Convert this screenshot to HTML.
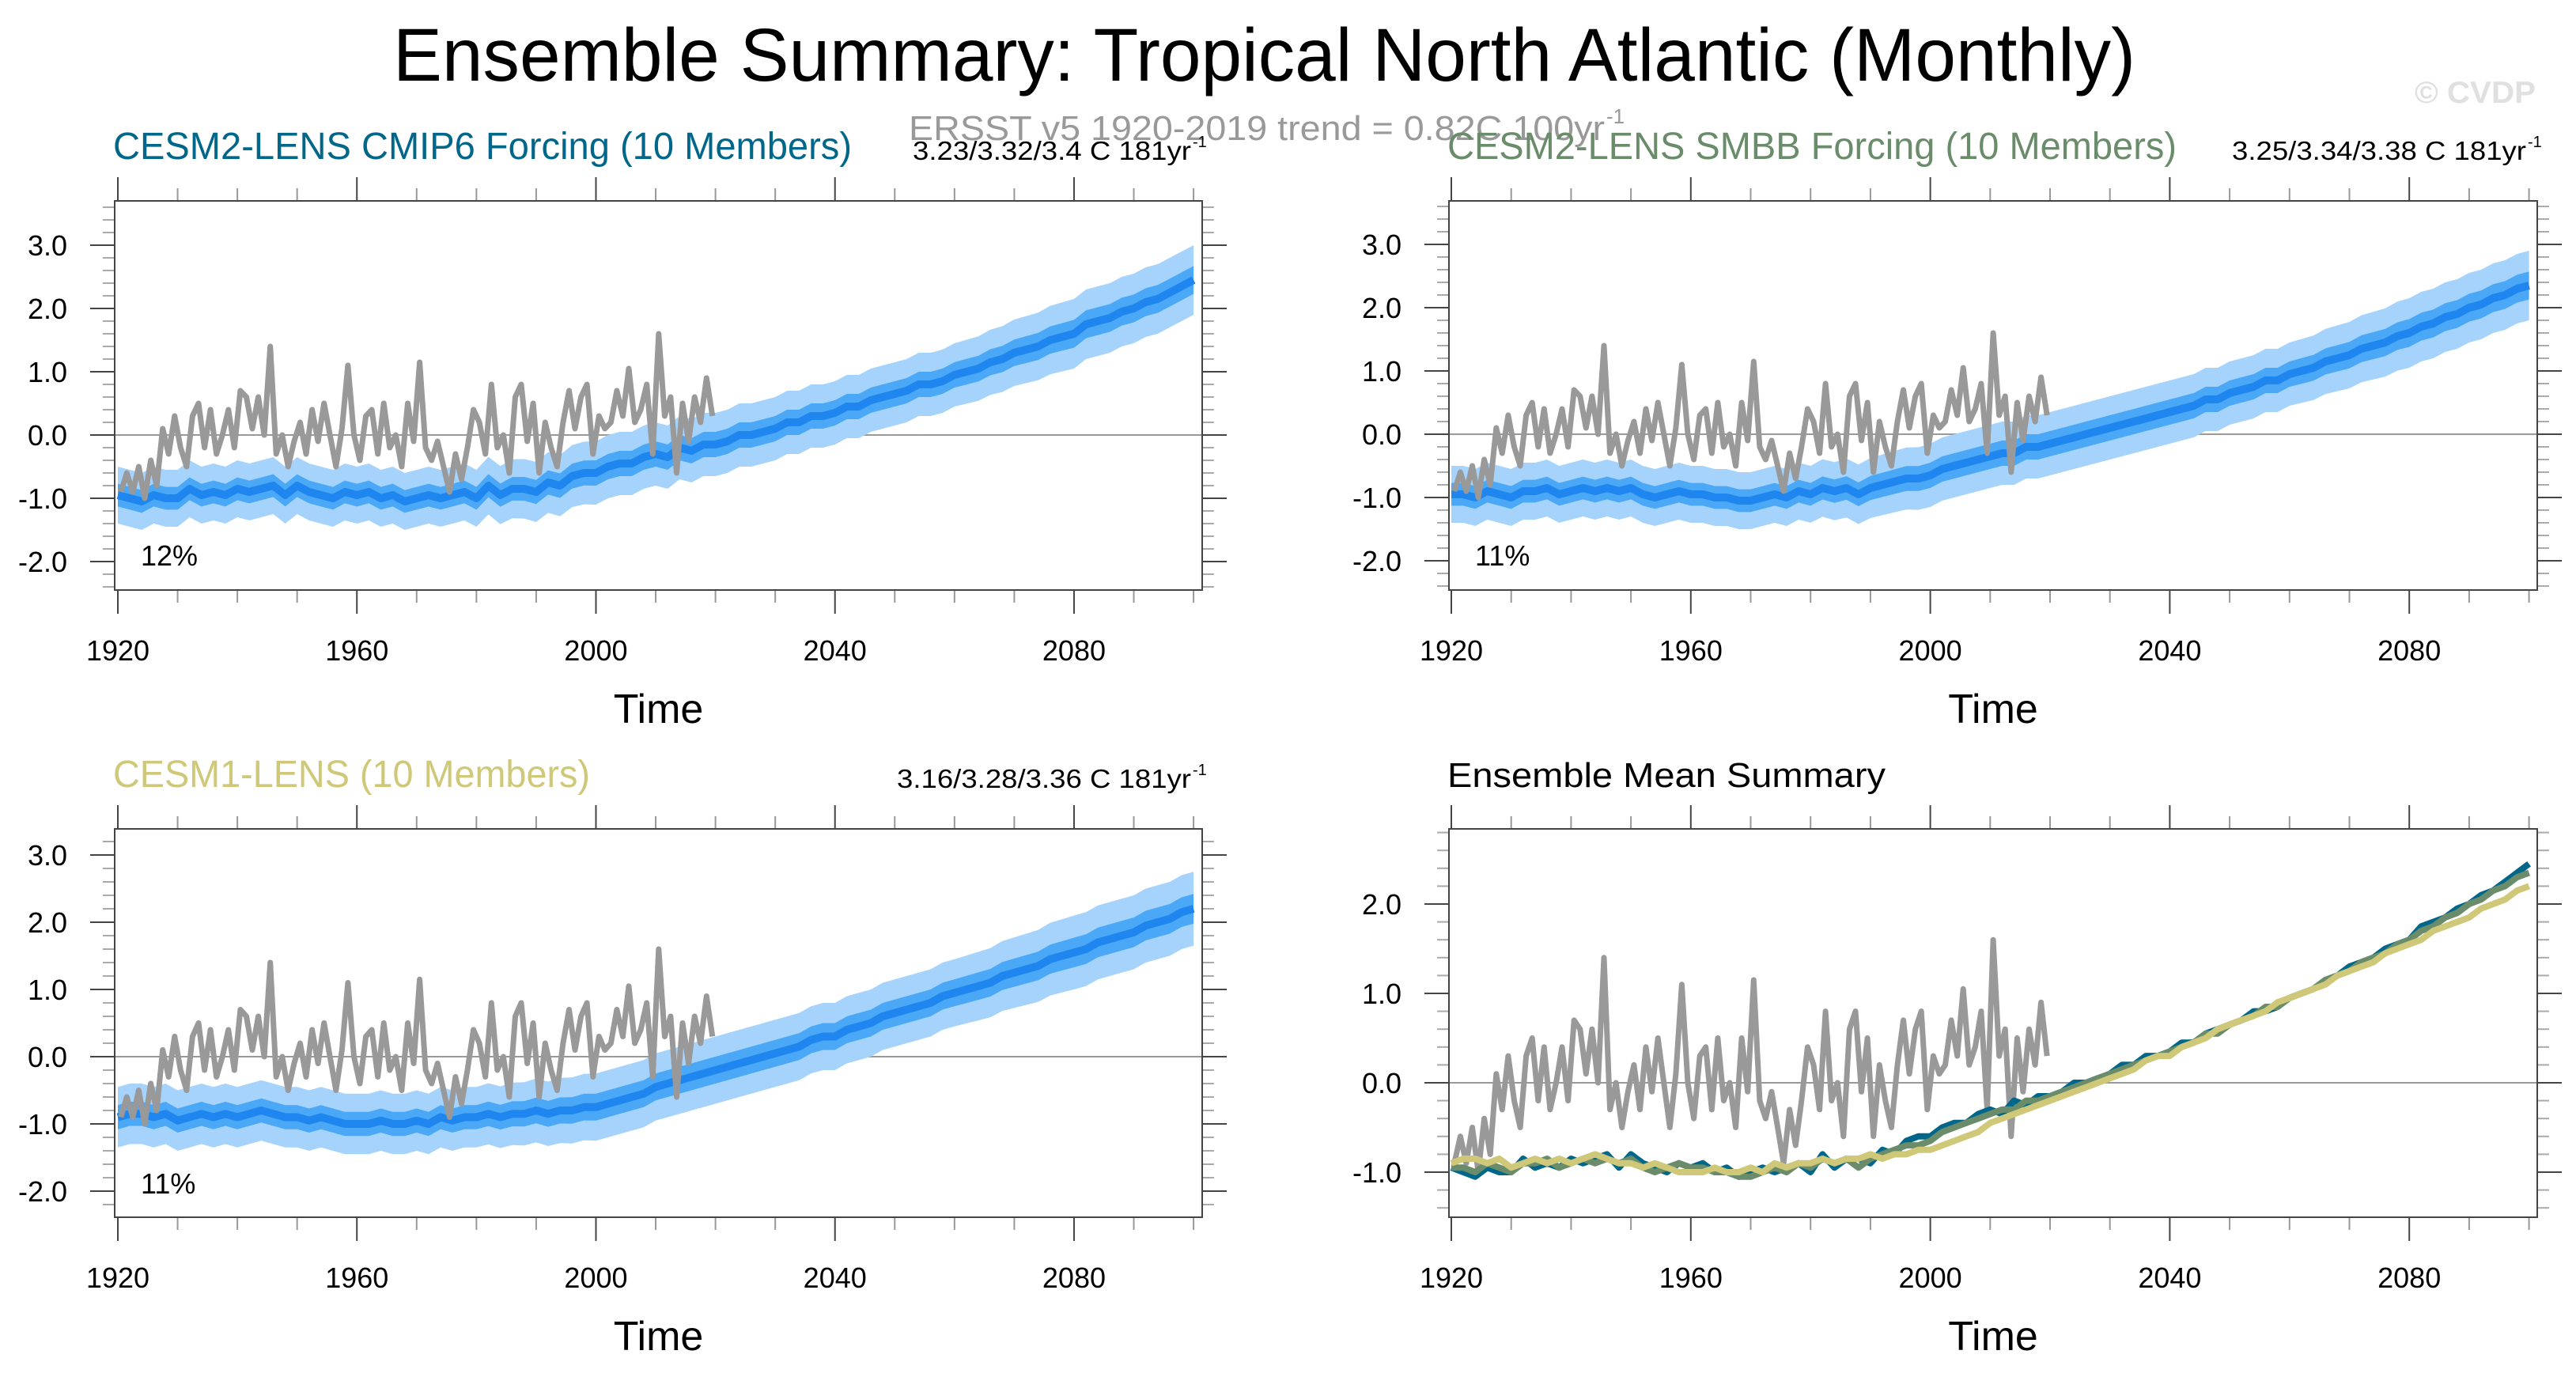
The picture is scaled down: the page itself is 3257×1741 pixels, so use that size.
<!DOCTYPE html>
<html><head><meta charset="utf-8"><style>
html,body{margin:0;padding:0;background:#fff;}
svg{display:block;font-family:"Liberation Sans",sans-serif;}
</style></head><body>
<svg id="chart" xmlns="http://www.w3.org/2000/svg" width="3257" height="1741" viewBox="0 0 3257 1741">
<rect width="3257" height="1741" fill="#fff"/>
<text x="497" y="102" font-size="95" textLength="2203" lengthAdjust="spacingAndGlyphs">Ensemble Summary: Tropical North Atlantic (Monthly)</text>
<text x="1149" y="177" font-size="44" fill="#999" textLength="880" lengthAdjust="spacingAndGlyphs">ERSST v5 1920-2019 trend = 0.82C 100yr</text>
<text x="2031" y="156" font-size="26" fill="#999">-1</text>
<text x="3053" y="130" font-size="39" font-weight="bold" fill="#e0e0e0" textLength="153" lengthAdjust="spacingAndGlyphs">© CVDP</text>
<g id="panels"></g>
</svg>
<script>
// ---- data ----
const obsYears = [1920, 2019];
const obsValues = [
-0.9,-0.6,-0.9,-0.5,-1.0,-0.4,-0.8,0.1,-0.3,0.3,
-0.2,-0.5,0.3,0.5,-0.2,0.4,-0.3,0.0,0.4,-0.2,
0.7,0.6,0.1,0.6,0.0,1.4,-0.3,0.0,-0.5,-0.1,
0.2,-0.3,0.4,-0.1,0.5,0.0,-0.5,0.1,1.1,0.0,
-0.4,0.3,0.4,-0.3,0.5,-0.2,0.0,-0.5,0.5,-0.1,
1.15,-0.2,-0.4,-0.1,-0.5,-0.9,-0.3,-0.7,-0.2,0.4,
0.2,-0.3,0.8,-0.2,0.0,-0.6,0.6,0.8,-0.1,0.5,
-0.6,0.2,-0.2,-0.5,0.2,0.7,0.1,0.6,0.8,-0.3,
0.3,0.1,0.2,0.7,0.3,1.05,0.2,0.4,0.8,-0.3,
1.6,0.3,0.6,-0.6,0.5,-0.1,0.6,0.2,0.9,0.3];
const modelYearStep = 2; // ensemble means every 2 years from 1920
const cmip6Mean = [
-0.95,-1.0,-1.05,-0.95,-1.0,-1.0,-0.85,-0.95,-0.9,-0.95,
-0.85,-0.9,-0.85,-0.8,-0.95,-0.8,-0.9,-0.95,-1.0,-0.9,
-0.95,-0.9,-1.0,-0.95,-1.05,-1.0,-0.95,-1.0,-0.95,-0.9,
-1.0,-0.8,-0.95,-0.85,-0.85,-0.9,-0.75,-0.8,-0.65,-0.6,
-0.6,-0.5,-0.45,-0.45,-0.35,-0.3,-0.35,-0.2,-0.25,-0.15,
-0.15,-0.1,0.0,0.0,0.05,0.1,0.2,0.2,0.3,0.3,
0.35,0.45,0.45,0.55,0.6,0.65,0.7,0.8,0.8,0.85,
0.95,1.0,1.05,1.15,1.2,1.3,1.35,1.4,1.5,1.55,
1.6,1.75,1.8,1.85,1.95,2.0,2.1,2.15,2.25,2.35,2.45];
const smbbMean = [
-0.95,-0.95,-1.0,-0.9,-0.95,-1.0,-0.9,-0.9,-0.85,-0.95,
-0.9,-0.85,-0.9,-0.85,-0.9,-0.85,-0.95,-1.0,-0.95,-0.9,
-0.95,-0.95,-1.0,-1.0,-1.05,-1.05,-1.0,-0.95,-1.0,-0.9,
-0.95,-0.85,-0.9,-0.85,-0.95,-0.85,-0.8,-0.75,-0.7,-0.7,
-0.65,-0.55,-0.5,-0.45,-0.4,-0.35,-0.3,-0.3,-0.2,-0.2,
-0.15,-0.1,-0.05,0.0,0.05,0.1,0.15,0.2,0.25,0.3,
0.35,0.4,0.45,0.55,0.55,0.65,0.7,0.75,0.85,0.85,
0.95,1.0,1.05,1.15,1.2,1.25,1.35,1.4,1.45,1.55,
1.6,1.7,1.75,1.85,1.9,2.0,2.05,2.15,2.2,2.3,2.35];
const cesm1Mean = [
-0.9,-0.85,-0.85,-0.9,-0.85,-0.95,-0.9,-0.85,-0.9,-0.85,
-0.9,-0.85,-0.8,-0.85,-0.9,-0.9,-0.95,-0.9,-0.95,-1.0,
-1.0,-1.0,-0.95,-1.0,-1.0,-0.95,-1.0,-0.9,-0.95,-0.9,
-0.9,-0.85,-0.9,-0.85,-0.85,-0.8,-0.85,-0.8,-0.8,-0.75,
-0.75,-0.7,-0.65,-0.6,-0.55,-0.45,-0.4,-0.35,-0.3,-0.25,
-0.2,-0.15,-0.1,-0.05,0.0,0.05,0.1,0.15,0.25,0.3,
0.3,0.4,0.45,0.5,0.6,0.65,0.7,0.75,0.8,0.9,
0.95,1.0,1.05,1.1,1.2,1.25,1.3,1.35,1.45,1.5,
1.55,1.6,1.7,1.75,1.8,1.85,1.95,2.0,2.05,2.15,2.2];
// envelope half-widths every 20 years (1920..2100)
const outerSpread = [0.45,0.45,0.45,0.45,0.5,0.5,0.5,0.5,0.55,0.55];
const innerSpread = [0.18,0.18,0.18,0.18,0.2,0.2,0.2,0.2,0.22,0.22];
const xTickYears = [1920,1960,2000,2040,2080];

// ---- drawing ----
const NS = "http://www.w3.org/2000/svg";
const root = document.getElementById('panels');
function mk(tag, attrs, parent){
  const e = document.createElementNS(NS, tag);
  for (const k in attrs) e.setAttribute(k, attrs[k]);
  (parent||root).appendChild(e);
  return e;
}
function spreadAt(arr, yr){
  const f = (yr-1920)/20, i = Math.min(Math.floor(f), arr.length-2), t = f-i;
  return arr[i]*(1-t)+arr[i+1]*t;
}
function drawPanel(p){
  const g = mk('g', {});
  
  
  const X = yr => p.x1920 + (yr-1920)*p.xs;
  const Y = v => p.y0 - v*p.ys;
  const vMax = (p.y0-p.t)/p.ys, vMin = (p.y0-p.b)/p.ys;
  // ticks
  for (let yr=1920; yr<=2100; yr+=10){
    const maj = (yr-1920)%40===0, L = maj?30:16, x = X(yr);
    const t1 = mk('line',{x1:x,x2:x,y1:p.t-L,y2:p.t,stroke:maj?'#444':'#999','stroke-width':2},g);
    
    
    const t2 = mk('line',{x1:x,x2:x,y1:p.b,y2:p.b+L,stroke:maj?'#444':'#999','stroke-width':2},g);
    
    
  }
  for (let k=Math.ceil(vMin*5); k<=Math.floor(vMax*5); k++){
    const v=k/5, maj = k%5===0, L = maj?31:15, y = Y(v);
    const t1 = mk('line',{x1:p.l-L,x2:p.l,y1:y,y2:y,stroke:maj?'#444':'#aaa','stroke-width':2},g);
    
    
    const t2 = mk('line',{x1:p.r,x2:p.r+L,y1:y,y2:y,stroke:maj?'#444':'#aaa','stroke-width':2},g);
    
    
    if (maj){
      const lb = mk('text',{x:p.l-60,y:y+13,'font-size':36,'text-anchor':'end'},g);
      lb.textContent = v.toFixed(1);
      
      
    }
  }
  xTickYears.forEach(yr=>{
    const lb = mk('text',{x:X(yr),y:p.b+89,'font-size':36,'text-anchor':'middle'},g);
    lb.textContent = yr;
    
    
  });
  const xt = mk('text',{x:(p.l+p.r)/2,y:p.b+168,'font-size':52,'text-anchor':'middle'},g);
  xt.textContent='Time';
  
  
  // clip
  const cid = 'clip-'+p.name;
  const cp = mk('clipPath',{id:cid},g);
  mk('rect',{x:p.l,y:p.t,width:p.r-p.l,height:p.b-p.t},cp);
  const plot = mk('g',{'clip-path':'url(#'+cid+')'},g);
  const zl = mk('line',{x1:p.l,x2:p.r,y1:Y(0),y2:Y(0),stroke:'#999','stroke-width':2},plot);
  
  
  const obsPath = () => obsValues.map((v,i)=>(i?'L':'M')+X(obsYears[0]+i+0.5).toFixed(1)+','+Y(v).toFixed(1)).join('');
  const meanPath = arr => arr.map((v,i)=>(i?'L':'M')+X(1920+i*modelYearStep).toFixed(1)+','+Y(v).toFixed(1)).join('');
  const band = (arr, sp) => {
    const up = arr.map((v,i)=>{const yr=1920+i*modelYearStep;return X(yr).toFixed(1)+','+Y(v+spreadAt(sp,yr)).toFixed(1);});
    const dn = arr.map((v,i)=>{const yr=1920+i*modelYearStep;return X(yr).toFixed(1)+','+Y(v-spreadAt(sp,yr)).toFixed(1);}).reverse();
    return 'M'+up.join('L')+'L'+dn.join('L')+'Z';
  };
  if (p.mean){
    const b1 = mk('path',{d:band(p.mean,outerSpread),fill:'#a6d3fb'},plot);
    
    
    const b2 = mk('path',{d:band(p.mean,innerSpread),fill:'#4aa8f6'},plot);
    
    
    const ml = mk('path',{d:meanPath(p.mean),fill:'none',stroke:'#1e86ee','stroke-width':10,'stroke-linejoin':'round'},plot);
    
    
    const ol = mk('path',{d:obsPath(),fill:'none',stroke:'#999','stroke-width':7,'stroke-linejoin':'round'},plot);
    
    
  } else {
    const ol = mk('path',{d:obsPath(),fill:'none',stroke:'#999','stroke-width':7,'stroke-linejoin':'round'},plot);
    
    
    [[cmip6Mean,'#00678a','cmip6-mean-line'],[smbbMean,'#6a8c6a','smbb-mean-line'],[cesm1Mean,'#cfc878','cesm1-mean-line']].forEach(s=>{
      const l = mk('path',{d:meanPath(s[0]),fill:'none',stroke:s[1],'stroke-width':8,'stroke-linejoin':'round'},plot);
      
      
    });
  }
  const fr = mk('rect',{x:p.l,y:p.t,width:p.r-p.l,height:p.b-p.t,fill:'none',stroke:'#444','stroke-width':2},g);
  
  
  // titles
  const tt = mk('text',{x:p.l-2,y:p.t-53,'font-size':p.titleSize,fill:p.titleColor,textLength:p.titleLen,lengthAdjust:'spacingAndGlyphs'},g);
  tt.textContent = p.title;
  
  
  if (p.trend){
    const tr = mk('text',{x:p.trendX,y:p.t-52,'font-size':33,textLength:p.r-14-p.trendX,lengthAdjust:'spacingAndGlyphs'},g);
    tr.textContent = p.trend;
    
    
    const sp = mk('text',{x:p.r-12,y:p.t-68,'font-size':20},g);
    sp.textContent='-1';
    
    
  }
  if (p.pct){
    const pc = mk('text',{x:p.l+33,y:p.t+461,'font-size':36},g);
    pc.textContent = p.pct;
    
    
  }
}
drawPanel({name:'panel-cesm2-cmip6',l:145,r:1520,t:254,b:746,x1920:149,xs:7.556,y0:550,ys:80,mean:cmip6Mean,
  title:'CESM2-LENS CMIP6 Forcing (10 Members)',titleColor:'#00678a',titleSize:48,titleLen:934,
  trend:'3.23/3.32/3.4 C 181yr',trendX:1154,pct:'12%'});
drawPanel({name:'panel-cesm2-smbb',l:1832,r:3208,t:254,b:746,x1920:1835,xs:7.57,y0:549,ys:80,mean:smbbMean,
  title:'CESM2-LENS SMBB Forcing (10 Members)',titleColor:'#6a8c6a',titleSize:48,titleLen:922,
  trend:'3.25/3.34/3.38 C 181yr',trendX:2822,pct:'11%'});
drawPanel({name:'panel-cesm1',l:145,r:1520,t:1048,b:1539,x1920:149,xs:7.556,y0:1336,ys:85,mean:cesm1Mean,
  title:'CESM1-LENS (10 Members)',titleColor:'#cfc878',titleSize:48,titleLen:603,
  trend:'3.16/3.28/3.36 C 181yr',trendX:1134,pct:'11%'});
drawPanel({name:'panel-ensemble-mean-summary',l:1832,r:3208,t:1048,b:1539,x1920:1835,xs:7.57,y0:1369,ys:113,mean:null,
  title:'Ensemble Mean Summary',titleColor:'#000',titleSize:44,titleLen:554});
</script>
</body></html>
